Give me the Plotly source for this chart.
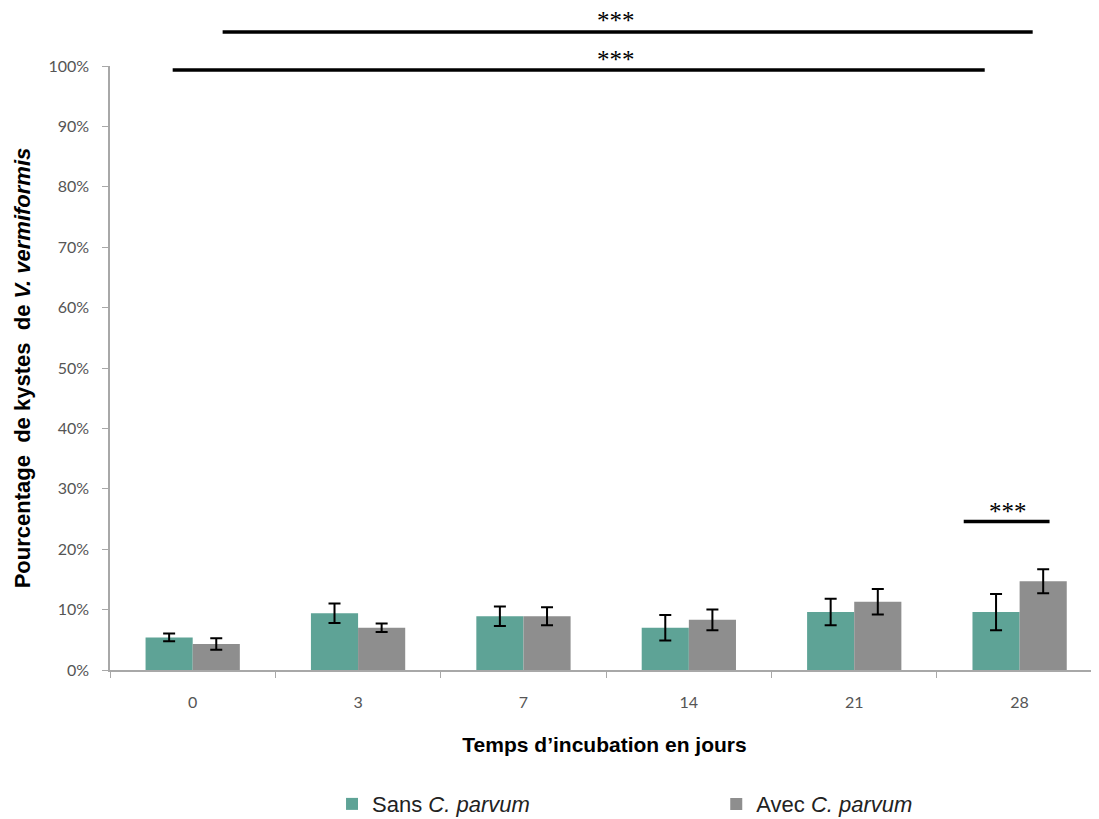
import plotly.graph_objects as go

categories = ["0", "3", "7", "14", "21", "28"]
sans_vals = [5.4, 9.4, 8.9, 7.0, 9.6, 9.6]
sans_err = [0.65, 1.6, 1.6, 2.1, 2.2, 3.0]
avec_vals = [4.3, 7.0, 8.9, 8.3, 11.3, 14.7]
avec_err = [0.95, 0.7, 1.5, 1.7, 2.1, 2.0]
y_ticks = [0, 10, 20, 30, 40, 50, 60, 70, 80, 90, 100]
y_ticktext = [f"{v}%" for v in y_ticks]

GREEN = "#5EA396"
GRAY = "#8E8E8E"
AX = "#A8A8A8"

fig = go.Figure()
fig.add_trace(go.Bar(
    x=categories, y=sans_vals, name="Sans <i>C. parvum</i>", legend="legend",
    marker=dict(color=GREEN, line=dict(width=0)),
    error_y=dict(type="data", array=sans_err, color="black", thickness=2, width=6),
))
fig.add_trace(go.Bar(
    x=categories, y=avec_vals, name="Avec <i>C. parvum</i>", legend="legend2",
    marker=dict(color=GRAY, line=dict(width=0)),
    error_y=dict(type="data", array=avec_err, color="black", thickness=2, width=6),
))

# page body has an 8px default margin: figure is sized/offset to compensate
leg_font = dict(size=22, family="Liberation Sans, Arial", color="#222")
fig.update_layout(
    width=1091, height=811,
    margin=dict(l=102, r=0, t=58, b=149, autoexpand=False),
    paper_bgcolor="white", plot_bgcolor="white",
    barmode="group", bargap=0.43, bargroupgap=0,
    font=dict(family="Liberation Sans, Arial", color="black"),
    showlegend=True,
    legend=dict(orientation="h", x=0.2245, xanchor="left", y=-0.222, yanchor="middle",
                font=leg_font, itemwidth=30),
    legend2=dict(orientation="h", x=0.613, xanchor="left", y=-0.222, yanchor="middle",
                 font=leg_font, itemwidth=30),
    xaxis=dict(
        type="category", range=[-0.5, 5.48], automargin=False,
        showline=True, linecolor=AX, linewidth=1.5,
        ticks="outside", tickson="boundaries", ticklen=6, tickcolor=AX,
        tickfont=dict(size=16, family="Lato, Open Sans", color="#555"),
        ticklabelstandoff=17,
        title=dict(text="<b>Temps d’incubation en jours</b>", standoff=27,
                   font=dict(size=21, family="Liberation Sans, Arial", color="black")),
        showgrid=False,
    ),
    yaxis=dict(
        range=[0, 100], tickmode="array", tickvals=y_ticks, ticktext=y_ticktext,
        automargin=False,
        showline=True, linecolor=AX, linewidth=1.5,
        ticks="outside", ticklen=6, tickcolor=AX,
        tickfont=dict(size=16, family="Lato, Open Sans", color="#555"),
        ticklabelstandoff=10,
        title=dict(text="<b>Pourcentage&nbsp; de kystes&nbsp; de <i>V. vermiformis</i></b>", standoff=12,
                   font=dict(size=22, family="Liberation Sans, Arial", color="black")),
        showgrid=False, zeroline=False,
    ),
)

# significance bars
sig_lines = [
    dict(x0=0.181, x1=5.079, y=1.0563),
    dict(x0=-0.121, x1=4.789, y=0.9934),
]
for s in sig_lines:
    fig.add_shape(type="line", xref="x", yref="paper", x0=s["x0"], x1=s["x1"],
                  y0=s["y"], y1=s["y"], line=dict(color="black", width=3.5))
fig.add_shape(type="line", xref="x", yref="y", x0=4.662, x1=5.181, y0=24.6, y1=24.6,
              line=dict(color="black", width=3.5))

star_font = dict(size=25, family="Liberation Serif, Times New Roman", color="black")
fig.add_annotation(x=2.56, xref="x", y=1.0844, yref="paper", yshift=10, text="***", showarrow=False, font=star_font)
fig.add_annotation(x=2.56, xref="x", y=1.0149, yref="paper", yshift=13, text="***", showarrow=False, font=star_font)
fig.add_annotation(x=4.93, xref="x", y=26.8, yref="y", yshift=-3, text="***", showarrow=False, font=star_font)

fig.write_html("out.html")
